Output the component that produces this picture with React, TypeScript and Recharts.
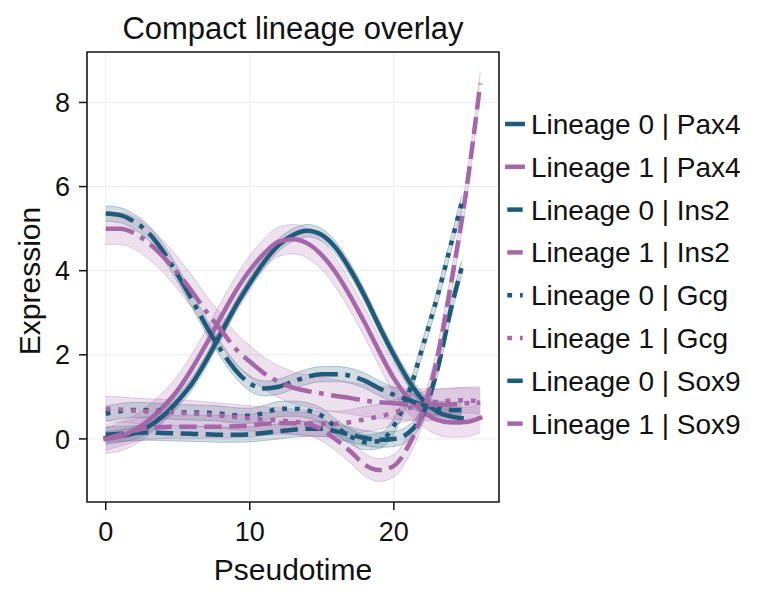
import React from 'react'
import {
  ComposedChart,
  Line,
  Area,
  XAxis,
  YAxis,
  CartesianGrid,
  ReferenceArea,
} from 'recharts'

// pseudotime grid for each lineage (lineage 0 stops earlier)
const pseudotime0 = [0, 1, 2, 3, 4, 5, 6, 7, 8, 9, 10, 11, 12, 13, 14, 15, 16, 17, 18, 19, 20, 21, 22, 23, 24, 24.7]
const pseudotime1 = [0, 1, 2, 3, 4, 5, 6, 7, 8, 9, 10, 11, 12, 13, 14, 15, 16, 17, 18, 19, 20, 21, 22, 23, 24, 25, 26]

const lineage0Pax4 = [0.02, 0.07, 0.14, 0.3, 0.55, 0.9, 1.32, 1.88, 2.51, 3.14, 3.7, 4.21, 4.61, 4.85, 4.95, 4.85, 4.53, 4.01, 3.38, 2.67, 2.0, 1.4, 0.93, 0.65, 0.53, 0.49]
const lineage1Pax4 = [0.0, 0.06, 0.21, 0.45, 0.77, 1.16, 1.68, 2.27, 2.9, 3.5, 4.01, 4.41, 4.69, 4.75, 4.65, 4.37, 3.94, 3.38, 2.75, 2.07, 1.44, 0.97, 0.65, 0.45, 0.39, 0.4, 0.5]
const lineage0Ins2 = [0.1, 0.12, 0.14, 0.15, 0.14, 0.13, 0.12, 0.11, 0.1, 0.1, 0.11, 0.14, 0.18, 0.22, 0.24, 0.24, 0.18, 0.1, 0.02, -0.02, 0.0, 0.14, 0.58, 1.62, 3.14, 4.06]
const lineage1Ins2 = [0.0, 0.1, 0.2, 0.26, 0.28, 0.29, 0.29, 0.29, 0.29, 0.3, 0.32, 0.36, 0.38, 0.37, 0.35, 0.22, -0.02, -0.3, -0.62, -0.74, -0.64, -0.17, 0.62, 1.9, 3.75, 5.84, 8.45]
const lineage0Gcg = [0.6, 0.66, 0.69, 0.68, 0.66, 0.64, 0.63, 0.62, 0.6, 0.56, 0.55, 0.62, 0.71, 0.72, 0.68, 0.55, 0.28, 0.06, -0.08, -0.05, 0.31, 1.06, 2.19, 3.36, 4.67, 5.6]
const lineage1Gcg = [0.72, 0.7, 0.67, 0.65, 0.64, 0.63, 0.61, 0.58, 0.55, 0.52, 0.49, 0.46, 0.44, 0.41, 0.38, 0.36, 0.36, 0.4, 0.47, 0.53, 0.63, 0.73, 0.82, 0.88, 0.91, 0.92, 0.89]
const lineage0Sox9 = [5.36, 5.32, 5.16, 4.89, 4.45, 3.9, 3.3, 2.67, 2.11, 1.64, 1.32, 1.2, 1.24, 1.36, 1.48, 1.54, 1.54, 1.5, 1.38, 1.2, 1.05, 0.93, 0.81, 0.73, 0.69, 0.69]
const lineage1Sox9 = [5.0, 5.0, 4.89, 4.65, 4.33, 3.94, 3.5, 3.02, 2.59, 2.15, 1.84, 1.56, 1.36, 1.22, 1.14, 1.08, 1.02, 0.97, 0.91, 0.87, 0.85, 0.82, 0.81, 0.81, 0.82, 0.85, 0.86]

// half width of the confidence band for each series, legend order
const bandHalfWidth = [0.15, 0.35, 0.18, 0.27, 0.18, 0.3, 0.18, 0.38]

const xTicks = [0, 10, 20]
const yTicks = [0, 2, 4, 6, 8]

const BLUE = '#1f5a7a'
const PURPLE = '#a667a8'
const FONT = '"Liberation Sans", Arial, sans-serif'

const DASHED = '17.5 7.5'
const DOTTED = '4.8 7.9'
const DASHDOT = '29 7.5 4.8 7.5'

const series = [
  { name: 'Lineage 0 | Pax4', key: 'pax4', lineage: 0, values: lineage0Pax4, dash: undefined },
  { name: 'Lineage 1 | Pax4', key: 'pax4', lineage: 1, values: lineage1Pax4, dash: undefined },
  { name: 'Lineage 0 | Ins2', key: 'ins2', lineage: 0, values: lineage0Ins2, dash: DASHED },
  { name: 'Lineage 1 | Ins2', key: 'ins2', lineage: 1, values: lineage1Ins2, dash: DASHED },
  { name: 'Lineage 0 | Gcg', key: 'gcg', lineage: 0, values: lineage0Gcg, dash: DOTTED },
  { name: 'Lineage 1 | Gcg', key: 'gcg', lineage: 1, values: lineage1Gcg, dash: DOTTED },
  { name: 'Lineage 0 | Sox9', key: 'sox9', lineage: 0, values: lineage0Sox9, dash: DASHDOT },
  { name: 'Lineage 1 | Sox9', key: 'sox9', lineage: 1, values: lineage1Sox9, dash: DASHDOT },
]

function buildTable(xs: number[], lineage: number) {
  return xs.map((t, i) => {
    const row: Record<string, any> = { t }
    series.forEach((s, si) => {
      if (s.lineage !== lineage) return
      const v = s.values[i]
      const w = bandHalfWidth[si]
      row[s.key] = v
      row[s.key + 'Band'] = [v - w, v + w]
    })
    return row
  })
}

const table0 = buildTable(pseudotime0, 0)
const table1 = buildTable(pseudotime1, 1)

function YTitle(props: any) {
  const vb = props.viewBox || { x: 0, y: 52, width: 87, height: 450 }
  const x = vb.x + 40
  const y = vb.y + vb.height / 2 + 4
  return (
    <text
      x={x}
      y={y}
      transform={`rotate(-90 ${x} ${y})`}
      textAnchor="middle"
      fontSize={30}
      fill="#111"
      fontFamily={FONT}
    >
      Expression
    </text>
  )
}

export default function App() {
  const marks = series.flatMap((s, i) => {
    const color = s.lineage === 0 ? BLUE : PURPLE
    const data = s.lineage === 0 ? table0 : table1
    return [
      <Area
        key={`band-${i}`}
        data={data}
        dataKey={s.key + 'Band'}
        type="monotone"
        stroke={color}
        strokeOpacity={0.3}
        strokeWidth={1}
        fill={color}
        fillOpacity={0.2}
        dot={false}
        activeDot={false}
        legendType="none"
        isAnimationActive={false}
      />,
      <Line
        key={`line-${i}`}
        data={data}
        dataKey={s.key}
        type="monotone"
        stroke={color}
        strokeWidth={4.5}
        strokeDasharray={s.dash}
        strokeLinecap={s.dash ? 'butt' : 'square'}
        dot={false}
        activeDot={false}
        isAnimationActive={false}
      />,
    ]
  })

  return (
    <div style={{ position: 'absolute', left: 0, top: 0, width: 763, height: 601, background: '#fff' }}>
      <ComposedChart
        width={763}
        height={601}
        margin={{ top: 52, right: 264, bottom: 0, left: 0 }}
        style={{ fontFamily: FONT }}
      >
        <CartesianGrid stroke="#ebebeb" strokeWidth={1} />
        <XAxis
          type="number"
          dataKey="t"
          domain={[-1.3, 27.3]}
          ticks={xTicks}
          allowDataOverflow
          height={99}
          axisLine={false}
          tickSize={8}
          tickMargin={12}
          tickLine={{ stroke: '#111', strokeWidth: 1.5 }}
          tick={{ fontSize: 27, fill: '#111', fontFamily: FONT }}
          label={{ value: 'Pseudotime', position: 'insideBottom', offset: 21, fontSize: 30, fill: '#111', fontFamily: FONT }}
        />
        <YAxis
          type="number"
          domain={[-1.5, 9.2]}
          ticks={yTicks}
          allowDataOverflow
          width={87}
          axisLine={false}
          tickSize={8}
          tickMargin={9}
          tickLine={{ stroke: '#111', strokeWidth: 1.5 }}
          tick={{ fontSize: 27, fill: '#111', fontFamily: FONT }}
          label={{ content: YTitle }}
        />
        {marks}
        <ReferenceArea
          x1={-1.3}
          x2={27.3}
          y1={-1.5}
          y2={9.2}
          fill="none"
          stroke="#1a1a1a"
          strokeWidth={1.6}
          ifOverflow="visible"
        />
        <text x={293} y={39} textAnchor="middle" fontSize={31} fill="#111" fontFamily={FONT}>
          Compact lineage overlay
        </text>
        {series.map((s, i) => {
          const cy = 124 + i * 42.8
          const color = s.lineage === 0 ? BLUE : PURPLE
          return (
            <g key={`leg-${i}`}>
              <line
                x1={507.3}
                x2={522.7}
                y1={cy}
                y2={cy}
                stroke={color}
                strokeWidth={4.5}
                strokeDasharray={s.dash}
                strokeLinecap={s.dash ? 'butt' : 'square'}
              />
              <text x={531} y={cy + 10} fontSize={28} fill="#111" fontFamily={FONT}>
                {s.name}
              </text>
            </g>
          )
        })}
      </ComposedChart>
    </div>
  )
}
